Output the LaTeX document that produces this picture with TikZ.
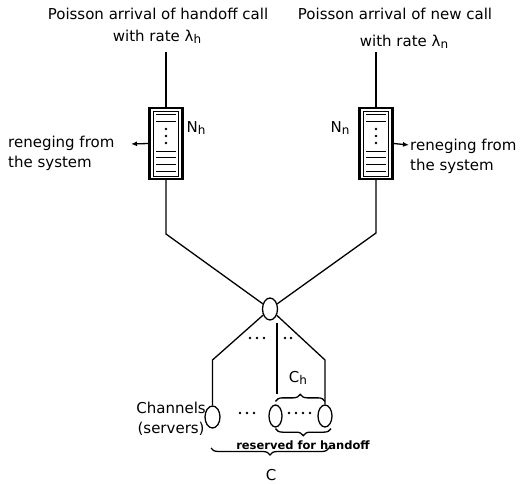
\documentclass[tikz,border=0pt]{standalone}
\usepackage{fontspec}
\setmainfont{DejaVu Sans}
\usetikzlibrary{shapes.geometric, arrows.meta, positioning, decorations.pathreplacing}
\newcommand{\lowsub}[1]{\raisebox{-0.25ex}{\fontsize{12}{12}\selectfont #1}}

\begin{document}
\begin{tikzpicture}[
    x=1pt, y=-1pt,
    lbl/.style={font=\fontsize{15}{20.5}\selectfont, inner sep=0pt},
    small/.style={font=\bfseries\fontsize{11.5}{13}\selectfont, inner sep=0pt},
    queue/.style={rectangle, draw, line width=2.2pt, minimum width=33pt, minimum height=71pt, inner sep=0pt},
    chan/.style={ellipse, draw, line width=1.3pt, minimum width=14pt, minimum height=22pt, inner sep=0pt},
    wire/.style={line width=1.3pt},
    arrow/.style={-{Latex[length=6pt, width=5pt]}, line width=1.3pt},
    braceup/.style={decorate, decoration={brace, amplitude=7pt}, line width=1.3pt},
    bracedown/.style={decorate, decoration={brace, mirror, amplitude=7pt}, line width=1.3pt},
    dot/.style={circle, fill, inner sep=0pt, minimum size=2.6pt},
]
\useasboundingbox (0,0) rectangle (528,484);

% arrival streams
\node[lbl] (harr) at (158,14) {Poisson arrival of handoff call};
\node[lbl] (hrate) at (157,37) {with rate λ\lowsub{h}};
\node[lbl] (narr) at (395,14) {Poisson arrival of new call};
\node[lbl] (nrate) at (404,42) {with rate λ\lowsub{n}};

% queues
\node[queue] (qh) at (166,143.5) {};
\node[queue] (qn) at (376,143.5) {};
\node[lbl] (nh) at (196,128) {N\lowsub{h}};
\node[lbl] (nn) at (340,128) {N\lowsub{n}};

\foreach \q in {qh, qn} {
    \draw[line width=0.8pt] ([shift={(-12.5,-32.5)}]\q.center) rectangle ([shift={(12.5,32.5)}]\q.center);
    \foreach \y in {-28.5, -21.5, 8.5, 14.5, 21.5, 28.5}
        \draw[line width=1pt] ([shift={(-10,\y)}]\q.center) -- ([shift={(10,\y)}]\q.center);
    \foreach \y in {-14.5, -7.5, -0.5}
        \node[dot] at ([shift={(0,\y)}]\q.center) {};
}

% reneging
\coordinate (hout) at (131,144);
\coordinate (nout) at (409,145);
\draw[arrow] (qh.west) -- (hout);
\draw[arrow] (qn.east) -- (nout);
\node[lbl, anchor=west, align=left] (hren) at (8,153.5) {reneging from\\the system};
\node[lbl, anchor=west, align=left] (nren) at (410,156.5) {reneging from\\the system};

% hub and channels
\node[chan, minimum width=15pt] (hub) at (270,309) {};
\node[chan, minimum width=15pt] (ch1) at (212.5,417) {};
\node[chan, minimum width=13pt] (chm) at (275.5,416) {};
\node[chan] (chc) at (325,416) {};

\coordinate (hin) at (166,52);
\coordinate (hbend) at (166,234);
\coordinate (nin) at (376,52);
\coordinate (nbend) at (376,233);
\draw[wire] (hin) -- (qh.north);
\draw[wire] (qh.south) -- (hbend) -- (hub);
\draw[wire] (nin) -- (qn.north);
\draw[wire] (qn.south) -- (nbend) -- (hub);

\coordinate (lbend) at (212.5,360);
\coordinate (rbend) at (325,360);
\coordinate (mtop) at (277,323);
\coordinate (mbot) at (277,394);
\draw[wire] (hub) -- (lbend) -- (ch1.north);
\draw[wire] (mtop) -- (mbot);
\draw[wire] (hub) -- (rbend) -- (chc.north);

% dots between lines and channels
\foreach \x in {250, 257, 264} \node[dot] at (\x,338) {};
\foreach \x in {285, 291} \node[dot] at (\x,338) {};
\foreach \x in {240, 247, 254} \node[dot] at (\x,413) {};
\foreach \x in {289, 296, 303, 310} \node[dot] at (\x,413) {};

\node[lbl, anchor=east, align=center] (chans) at (206,419) {Channels\\(servers)};

% braces
\draw[braceup] ([yshift=3pt]chm.north) -- ([yshift=3pt]chc.north);
\node[lbl] (chl) at (298,378) {C\lowsub{h}};
\draw[bracedown] ([yshift=-1pt]chm.south) -- ([xshift=6pt, yshift=-1pt]chc.south);
\node[small] (resv) at (303,445) {reserved for handoff};
\draw[bracedown] (211,448) -- (329,448);
\node[lbl] (cl) at (271,475) {C};

\end{tikzpicture}
\end{document}
